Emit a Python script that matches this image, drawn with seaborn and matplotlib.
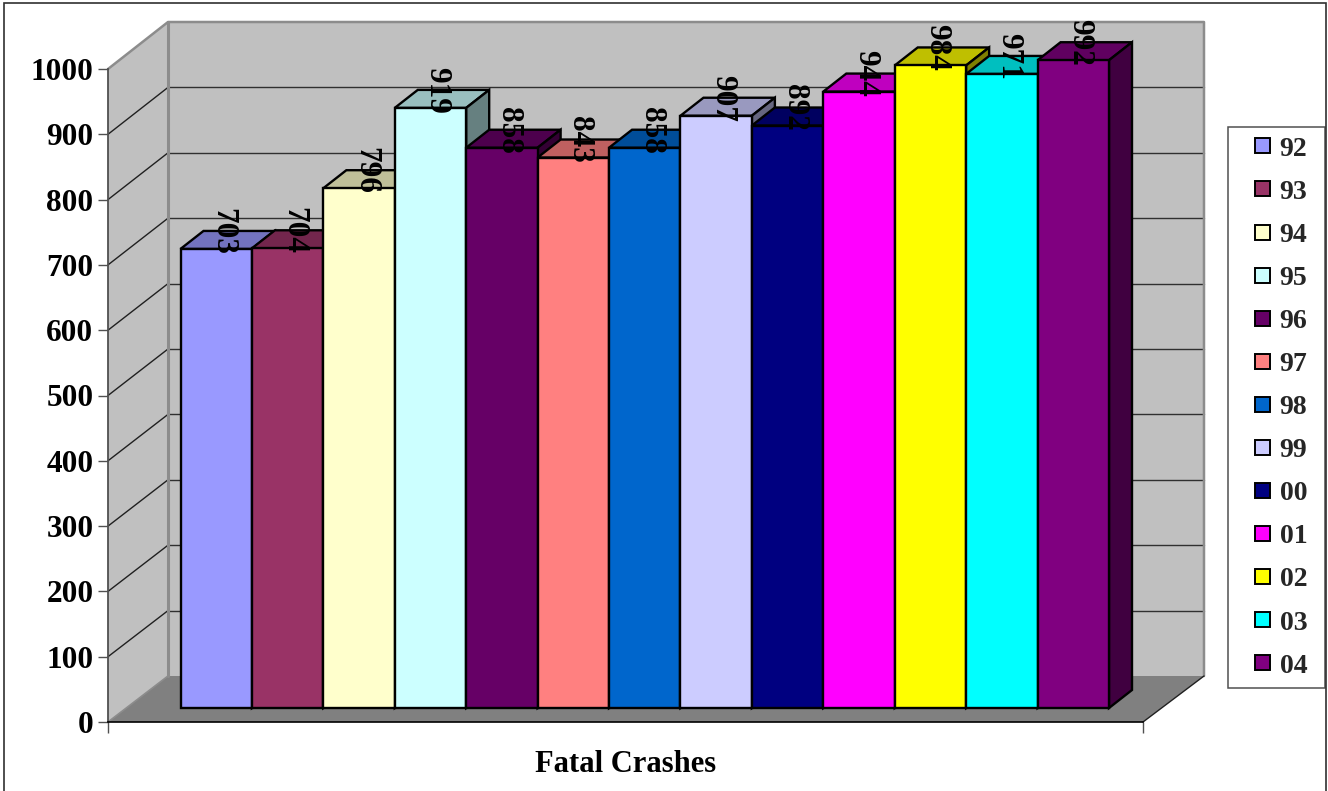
import matplotlib
matplotlib.use("Agg")
import matplotlib.pyplot as plt
import seaborn as sns
import pandas as pd
import numpy as np
from matplotlib.patches import Polygon, Rectangle, Patch
from matplotlib.legend_handler import HandlerPatch
from matplotlib.colors import to_rgb

years = ["92", "93", "94", "95", "96", "97", "98", "99", "00", "01", "02", "03", "04"]
fatal_crashes = [703, 704, 796, 919, 858, 843, 858, 907, 892, 944, 984, 971, 992]
bar_colors = ["#9999FF", "#993366", "#FFFFCC", "#CCFFFF", "#660066", "#FF8080", "#0066CC",
              "#CCCCFF", "#000080", "#FF00FF", "#FFFF00", "#00FFFF", "#800080"]
y_ticks = [0, 100, 200, 300, 400, 500, 600, 700, 800, 900, 1000]
x_title = "Fatal Crashes"

W, H = 1328, 791
SERIF = ["Liberation Serif", "DejaVu Serif"]
sns.set_theme(style="white")
plt.rcParams["font.family"] = SERIF
plt.rcParams["font.weight"] = "bold"

fig = plt.figure(figsize=(W / 100, H / 100), dpi=100, facecolor="white")


def axes_px(x0, y_top, x1, y_bottom, **kw):
    return fig.add_axes([x0 / W, 1 - y_bottom / H, (x1 - x0) / W, (y_bottom - y_top) / H], **kw)


# ---- walls and floor, in pixel space ----
bg = axes_px(0, 0, W, H, zorder=0)
bg.set_xlim(0, W)
bg.set_ylim(H, 0)
bg.axis("off")
WALL, FLOOR, EDGE = "#C0C0C0", "#808080", "#8C8C8C"
bg.add_patch(Polygon([(108, 69), (168, 22), (168, 676), (108, 722)], fc=WALL, ec="none"))
bg.add_patch(Rectangle((168, 22), 1036, 654, fc=WALL, ec="none"))
bg.add_patch(Polygon([(108, 722), (168, 676), (1204, 676), (1143, 722)], fc=FLOOR, ec="none"))
for v in y_ticks[1:-1]:
    yb = 676 - 0.654 * v
    yf = 722 - 0.653 * v
    bg.plot([108, 168], [yf, yb], color="#202020", lw=1.0)
    bg.plot([168, 1204], [yb, yb], color="#303030", lw=1.0)
bg.plot([108, 168, 1204, 1204], [69, 22, 22, 676], color=EDGE, lw=1.8)
bg.plot([168, 168], [22, 676], color=EDGE, lw=2.2)
bg.plot([108, 168], [722, 676], color=EDGE, lw=1.2)
bg.plot([1143, 1204], [722, 676], color="#202020", lw=1.0)

# ---- front axis frame: value axis and title ----
front = axes_px(108, 69, 1143, 722, zorder=1)
front.patch.set_alpha(0)
front.set_xlim(0, 1)
front.set_ylim(0, 1000)
front.set_yticks(y_ticks)
front.set_xticks([0, 1])
front.set_xticklabels([])
front.tick_params(axis="y", length=7.5, width=1, color="#505050", labelsize=22.5, pad=3,
                  left=True, labelcolor="black")
front.tick_params(axis="x", length=8, width=1, color="#505050", bottom=True)
for s in ["top", "right"]:
    front.spines[s].set_visible(False)
front.spines["left"].set_color("#505050")
front.spines["left"].set_linewidth(1.3)
front.spines["bottom"].set_color("black")
front.spines["bottom"].set_linewidth(1.2)
front.set_xlabel(x_title, fontsize=22, fontweight="bold", color="black", labelpad=9)

# ---- bars ----
ax = axes_px(180.5, 55, 1109, 708, zorder=2)
ax.patch.set_alpha(0)
df = pd.DataFrame({"year": years, "crashes": fatal_crashes})
sns.barplot(data=df, x="year", y="crashes", hue="year", order=years, hue_order=years,
            palette=bar_colors, saturation=1, width=1, dodge=False, legend=False, ax=ax,
            edgecolor="black", linewidth=1.7)
ax.set_xlim(-0.5, len(years) - 0.5)
ax.set_ylim(0, 1000)
ax.axis("off")

depth_x = 23 / ((1109 - 180.5) / len(years))
depth_y = 18 / 0.653
bars = sorted([p for p in ax.patches if p.get_height() > 0], key=lambda p: p.get_x())
for i, (p, col) in enumerate(zip(bars, bar_colors)):
    x0, x1, h = p.get_x(), p.get_x() + p.get_width(), p.get_height()
    rgb = np.array(to_rgb(col))
    z = 3 + 3 * i
    ax.add_patch(Polygon([(x0, h), (x1, h), (x1 + depth_x, h + depth_y), (x0 + depth_x, h + depth_y)],
                         fc=rgb * 0.75, ec="black", lw=1.7, zorder=z, clip_on=False))
    ax.add_patch(Polygon([(x1, 0), (x1 + depth_x, depth_y), (x1 + depth_x, h + depth_y), (x1, h)],
                         fc=rgb * 0.5, ec="black", lw=1.7, zorder=z + 1, clip_on=False))
    p.set_zorder(z + 2)
    p.set_clip_on(False)
    ax.text((x0 + x1) / 2 + 0.09, h + 27, str(fatal_crashes[i]), rotation=-90, ha="center", va="center",
            fontsize=22.5, fontweight="bold", color="black", zorder=100, clip_on=False)


# ---- legend box, then rows with the swatches offset from the left edge ----
def swatch(legend, orig_handle, xdescent, ydescent, width, height, fontsize):
    s = 15 * 0.72
    return Rectangle((width - s - xdescent, (height - s) / 2 - ydescent), s, s)


fig.add_artist(Rectangle((1228 / W, 1 - 688 / H), (1325 - 1228) / W, (688 - 127) / H, transform=fig.transFigure,
                         fc="white", ec="#505050", lw=1.1, zorder=190))
handles = [Patch(facecolor=c, edgecolor="black", linewidth=1.4, label=l) for c, l in zip(bar_colors, years)]
leg = fig.legend(handles=handles, loc="upper left", bbox_to_anchor=(1228 / W, 1 - 127 / H),
                 bbox_transform=fig.transFigure, prop={"family": SERIF, "weight": "bold", "size": 20},
                 frameon=False, borderaxespad=0, borderpad=0.33, labelspacing=0.635, handlelength=1.17,
                 handleheight=0.7, handletextpad=0.36, handler_map={Patch: HandlerPatch(patch_func=swatch)})
leg.set_zorder(200)

# ---- outer chart frame (open at the bottom edge) ----
fig.add_artist(Rectangle((4 / W, -10 / H), (1326 - 4) / W, (H + 10 - 3) / H, transform=fig.transFigure,
                         fc="none", ec="#303030", lw=1.2, zorder=300))

fig.savefig("out.png", dpi=100)
